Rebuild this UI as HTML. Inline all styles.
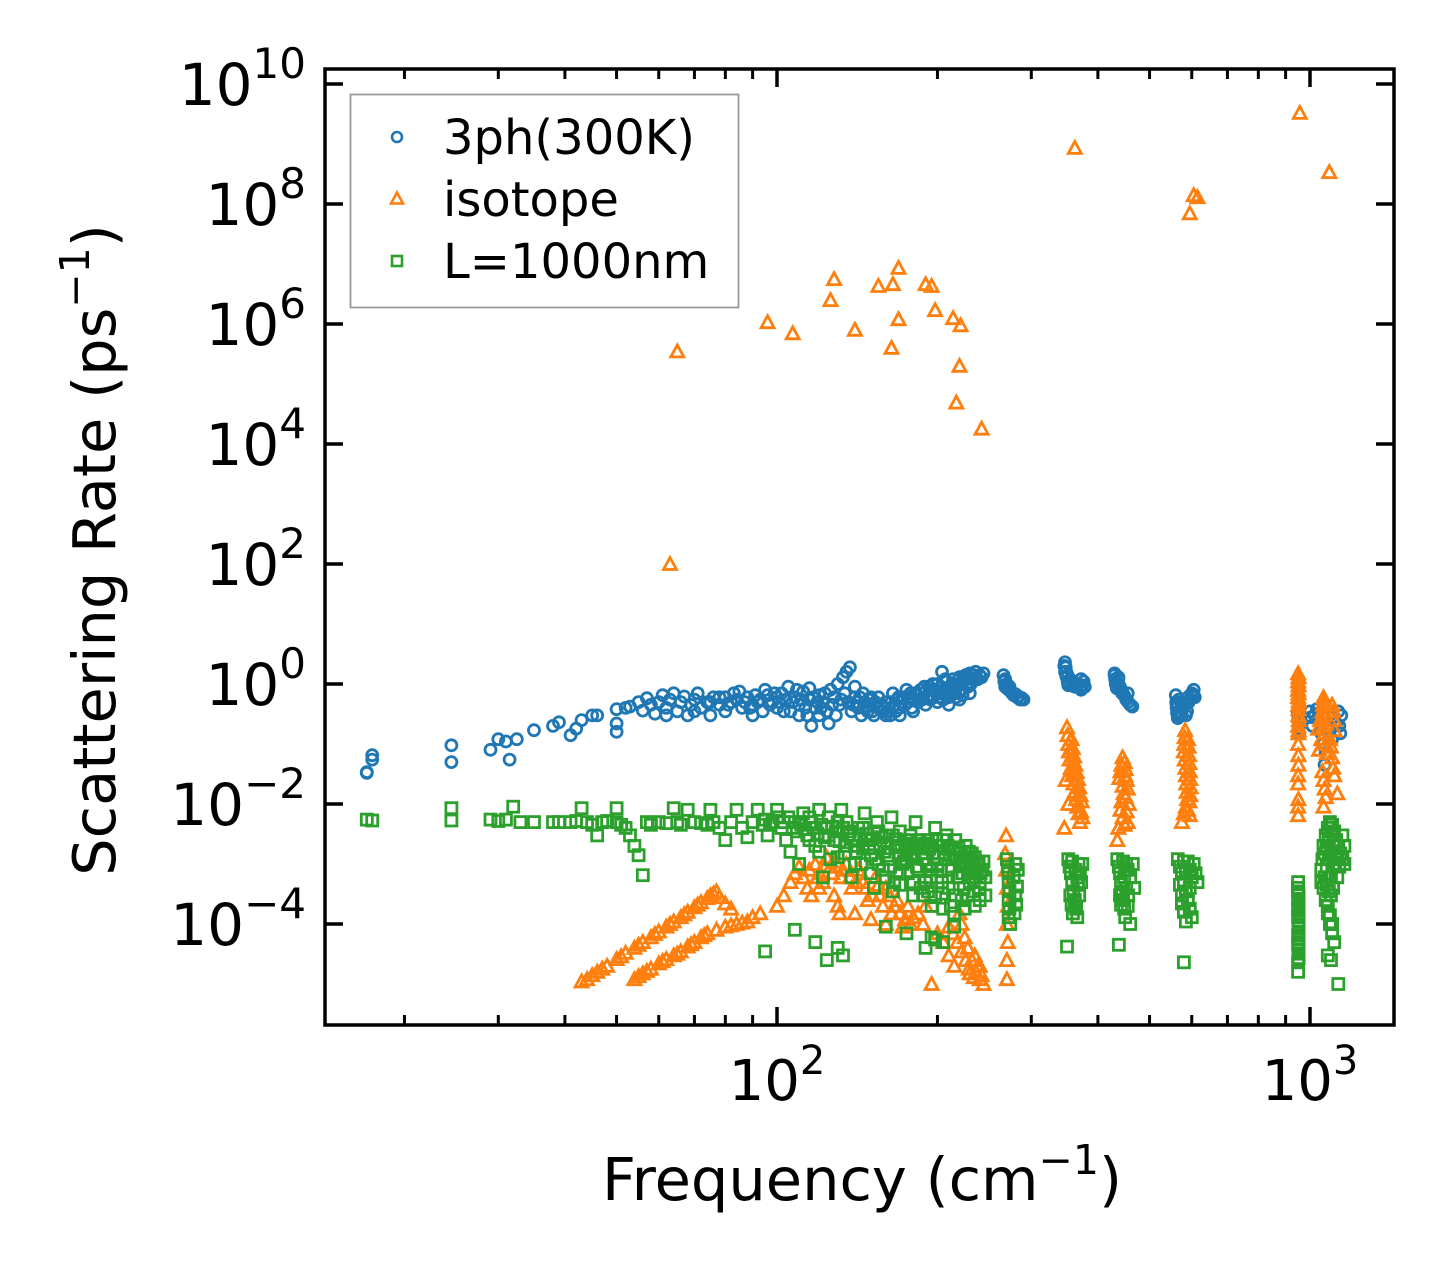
<!DOCTYPE html>
<html><head><meta charset="utf-8"><style>
html,body{margin:0;padding:0;background:#fff;}
svg{display:block;font-family:"DejaVu Sans","Liberation Sans",sans-serif;}
</style></head><body>
<svg id="chart" width="1455" height="1275" viewBox="0 0 1455 1275" xmlns="http://www.w3.org/2000/svg">
<rect width="1455" height="1275" fill="#fff"/>
<g id="marks"></g>
<g id="axes"></g>
<text x="862" y="1200" font-size="59" text-anchor="middle">Frequency (cm<tspan font-size="41" dy="-26">−1</tspan><tspan dy="26">)</tspan></text>
<text transform="translate(115,550) rotate(-90)" font-size="59" text-anchor="middle">Scattering Rate (ps<tspan font-size="41" dy="-26">−1</tspan><tspan dy="26">)</tspan></text>
<g>
<rect x="350.5" y="94.5" width="388" height="213" fill="#fff" stroke="#999" stroke-width="1.8"/>
<circle cx="397" cy="137" r="5" fill="none" stroke="#1f77b4" stroke-width="2.6"/>
<text x="443" y="154" font-size="48">3ph(300K)</text>
<path d="M397,192.5 L403,203.5 L391,203.5 Z" fill="none" stroke="#ff7f0e" stroke-width="2.6"/>
<text x="443" y="216" font-size="48">isotope</text>
<rect x="392" y="256" width="10" height="10" fill="none" stroke="#2ca02c" stroke-width="2.6"/>
<text x="443" y="278" font-size="48">L=1000nm</text>
</g>
</svg>
<script>
const xTickValues = [100, 1000];
const xTickLabels = ["2", "3"];
const xMinorTicks = [20,30,40,50,60,70,80,90,200,300,400,500,600,700,800,900];
const yTickValues = [1e-4,1e-2,1,1e2,1e4,1e6,1e8,1e10];
const yTickLabels = ["−4","−2","0","2","4","6","8","10"];

const threePh = [[17,0.033],[17,0.034],[17.4,0.055],[17.4,0.065],[24.5,0.095],[24.5,0.05],[29,0.08],[30,0.12],[31,0.11],[31.5,0.055],[32.5,0.12],[35,0.17],[38,0.2],[39,0.23],[41,0.14],[42,0.18],[43,0.25],[45,0.3],[46,0.3],[50,0.38],[50,0.16],[50,0.22],[52,0.4],[53,0.42],[55,0.5],[56,0.36],[57,0.58],[58,0.45],[59,0.32],[60,0.5],[61,0.65],[62,0.4],[63,0.55],[64,0.7],[65,0.35],[66,0.5],[67,0.62],[68,0.3],[69,0.45],[70,0.55],[71,0.7],[72,0.4],[74,0.5],[75,0.3],[76,0.6],[78,0.45],[80,0.35],[82,0.5],[84,0.55],[86,0.4],[88,0.6],[90,0.45],[92,0.5],[94,0.35],[96,0.65],[98,0.5],[100,0.4],[102,0.7],[104,0.55],[105,0.9],[106,0.35],[108,0.6],[110,0.45],[112,0.75],[114,0.3],[115,0.55],[116,0.2],[118,0.4],[120,0.65],[122,0.5],[124,0.35],[126,0.8],[128,0.6],[130,1.0],[131,0.45],[133,1.3],[134,0.7],[135,1.6],[136,0.5],[137,1.9],[138,0.35],[140,0.6],[142,0.4],[144,0.3],[146,0.5],[148,0.35],[150,0.45],[152,0.3],[155,0.4],[158,0.35],[160,0.5],[163,0.3],[166,0.45],[168,0.55],[170,0.4],[173,0.6],[176,0.5],[178,0.7],[180,0.55],[183,0.65],[186,0.8],[188,0.6],[190,0.75],[193,0.9],[195,0.65],[197,0.8],[200,1.0],[202,0.7],[204,1.6],[206,0.8],[208,1.1],[210,0.6],[212,0.9],[214,1.2],[216,0.7],[218,1.0],[220,1.3],[222,0.8],[224,1.1],[226,1.4],[228,0.9],[230,1.5],[233,1.2],[236,1.6],[240,1.4],[244,1.5],
[62,0.3],[70,0.35],[80,0.6],[90,0.3],[100,0.6],[110,0.3],[120,0.3],[125,0.22],[140,0.9],[150,0.6],[160,0.3],[170,0.3],[180,0.35],[190,0.45],[200,0.5],[210,0.45],[220,0.55],[230,0.7],[85,0.75],[95,0.8],[115,0.85],[145,0.7],[155,0.6],[165,0.7],[175,0.8],
[75,0.5],[78,0.6],[81,0.45],[83,0.7],[87,0.5],[89,0.4],[91,0.65],[93,0.55],[97,0.45],[99,0.7],[101,0.5],[103,0.35],[107,0.5],[109,0.8],[111,0.55],[113,0.4],[117,0.6],[119,0.5],[121,0.4],[123,0.7],[127,0.45],[129,0.3],[132,0.55],[139,0.45],[141,0.5],[143,0.6],[147,0.4],[149,0.55],[151,0.35],[153,0.5],[157,0.45],[159,0.4],[161,0.35],[164,0.5],[167,0.35],[169,0.6],[171,0.5],[174,0.45],[177,0.6],[179,0.4],[181,0.7],[184,0.5],[187,0.55],[189,0.9],[191,0.6],[194,0.55],[196,1.0],[199,0.7],[201,0.6],[203,0.9],[205,0.55],[207,1.2],[209,0.75],[211,0.65],[213,1.0],[215,0.9],[217,0.6],[219,1.2],[221,1.0],[223,0.65],[225,1.2],[227,1.0],[229,1.3],[231,1.0],[234,1.4],[238,1.2],[242,1.3],
[266,1.4],[267,1.1],[268,0.9],[270,1.0],[272,0.8],[275,0.75],[278,0.65],[282,0.6],[286,0.55],[268,1.2],[270,0.85],[273,0.9],[276,0.7],[280,0.68],[284,0.62],[288,0.58],[290,0.55],
[347,2.3],[348,1.9],[349,1.6],[350,1.3],[351,1.1],[352,0.95],[355,1.2],[360,1.0],[365,0.9],[370,0.85],[374,0.95],[372,1.2],[346,2.0],[347,1.6],[349,1.35],[351,1.4],[353,1.0],[357,1.1],[362,0.9],[367,1.0],[372,0.8],[376,1.1],[378,0.9],
[430,1.5],[431,1.2],[432,1.0],[434,0.85],[437,1.3],[440,0.9],[444,0.75],[448,0.65],[452,0.55],[456,0.5],[460,0.45],[455,0.7],[430,1.4],[432,1.1],[434,0.95],[437,1.2],[440,0.8],[444,0.7],[464,0.42],
[560,0.65],[561,0.5],[562,0.4],[563,0.33],[565,0.27],[567,0.55],[570,0.35],[575,0.3],[580,0.5],[590,0.6],[600,0.7],[605,0.8],[608,0.6],[585,0.3],[562,0.45],[566,0.3],[574,0.4],[584,0.45],[588,0.35],[592,0.5],[596,0.55],[604,0.65],
[948,0.35],[950,0.25],[952,0.18],[954,0.15],[951,0.3],[953,0.22],
[1000,0.35],[1005,0.28],[1010,0.2],[1020,0.3],[1030,0.38],[1040,0.25],[1050,0.15],[1060,0.1],[1070,0.07],[1080,0.3],[1090,0.2],[1100,0.12],[1110,0.28],[1120,0.22],[1130,0.35],[1065,0.045],[1140,0.15],[1145,0.3],[1135,0.2]];

const isotope = [[65,3.5e5],[63,100],[128,5.6e6],[126,2.5e6],[96,1.07e6],[107,7e5],[140,8e5],[155,4.3e6],[165,4.6e6],[169,8.6e6],[164,4e5],[169,1.2e6],[190,4.6e6],[195,4.3e6],[198,1.7e6],[214,1.25e6],[221,9.5e5],[220,2.0e5],[217,4.9e4],[242,1.8e4],[362,8.6e8],[595,7e7],[605,1.4e8],[615,1.3e8],[957,3.3e9],[1087,3.4e8],
[43,1.1e-5],[44,1.2e-5],[46,1.6e-5],[48,2e-5],[50,2.6e-5],[52,3.3e-5],[54,4e-5],[56,5e-5],[58,6e-5],[60,7.5e-5],[62,9e-5],[64,1.1e-4],[66,1.3e-4],[68,1.6e-4],[70,1.9e-4],[72,2.3e-4],[74,2.7e-4],[76,3.2e-4],[78,2.8e-4],[80,2.2e-4],[82,1.8e-4],[45,1.4e-5],[47,1.8e-5],[51,2.9e-5],[55,4.5e-5],[59,6.8e-5],[63,1e-4],[67,1.45e-4],[71,2.1e-4],[75,3e-4],[77,3.5e-4],
[54,1.2e-5],[56,1.5e-5],[58,1.8e-5],[60,2.2e-5],[62,2.6e-5],[64,3e-5],[66,3.5e-5],[68,4.2e-5],[70,5e-5],[72,6e-5],[74,7e-5],[77,8e-5],[80,9e-5],[84,1e-4],[88,1.1e-4],[90,1.3e-4],[93,1.5e-4],[55,1.35e-5],[57,1.65e-5],[61,2.4e-5],[65,3.2e-5],[69,4.6e-5],[73,6.5e-5],[82,9.5e-5],[86,1.05e-4],
[100,2e-4],[103,3e-4],[106,5e-4],[108,7e-4],[110,9e-4],[112,6e-4],[114,4e-4],[116,3e-4],[118,1e-3],[120,7e-4],[122,5e-4],[124,1.3e-3],[126,9e-4],[128,3e-4],[130,2e-4],[132,6e-4],[135,1e-3],[138,4e-4],[140,1.5e-4],[142,8e-4],[145,5e-4],[148,2.5e-4],[150,1.2e-4],[153,6e-4],[156,3e-4],[160,4e-4],[164,1.5e-4],[168,2.5e-4],[172,9e-5],[176,2e-4],[180,1.3e-4],[190,2e-4],[195,1e-5],[200,7e-5],[205,5e-5],[210,3e-5],[215,2e-5],[220,1.5e-4],[222,1e-4],[225,6e-5],[228,4e-5],[232,2.5e-5],[236,1.6e-5],[240,1.2e-5],[244,1e-5],[230,1.5e-5],[238,2e-5],[160,1e-4],[120,4e-4],[131,1.5e-4],
[115,8e-4],[119,6e-4],[123,9e-4],[127,7e-4],[129,1.1e-3],[133,8e-4],[137,6e-4],[141,5e-4],[144,7e-4],[147,4e-4],[151,3e-4],[155,4.5e-4],[158,2e-4],[162,3e-4],[166,2e-4],[170,1.5e-4],[174,1.2e-4],[178,1e-4],[184,1.5e-4],[188,1e-4],[210,9e-5],[214,7e-5],[218,5e-5],[222,3.5e-5],[226,2.5e-5],[229,1.8e-5],[234,1.3e-5],[242,1.4e-5],[235,3e-5],[240,2e-5],
[268,1.5e-3],[269,8e-4],[270,4e-4],[271,2e-4],[270,1e-4],[271,5e-5],[270,2.5e-5],[270,1.2e-5],[269,3e-3],
[350,0.19],[351,0.14],[352,0.1],[353,0.075],[354,0.055],[356,0.04],[358,0.03],[360,0.022],[362,0.016],[364,0.012],[366,0.009],[368,0.007],[370,0.005],[352,0.01],[346,0.004],[348,0.025],[357,0.12],[359,0.085],[361,0.062],[363,0.045],[365,0.034],[367,0.026],[369,0.019],[371,0.014],[373,0.011],[372,0.0075],[374,0.006],
[445,0.06],[443,0.045],[441,0.035],[439,0.027],[445,0.02],[447,0.015],[443,0.011],[441,0.008],[445,0.006],[449,0.0045],[437,0.004],[455,0.005],[435,0.0025],[450,0.03],[449,0.05],[451,0.038],[453,0.025],[455,0.018],[451,0.013],[457,0.01],[453,0.0075],
[583,0.17],[582,0.13],[581,0.1],[580,0.075],[582,0.055],[584,0.04],[585,0.03],[586,0.022],[587,0.016],[588,0.012],[585,0.009],[580,0.007],[590,0.008],[575,0.005],[595,0.0065],[590,0.12],[592,0.09],[593,0.065],[594,0.048],[595,0.035],[596,0.026],[597,0.019],[596,0.014],[594,0.011],
[950,1.5],[950,1.1],[950,0.8],[950,0.6],[951,0.45],[951,0.3],[950,0.2],[951,0.15],[950,0.1],[951,0.065],[950,0.03],[950,0.022],[951,0.012],[950,0.009],[950,0.0065],[952,1.3],[952,0.95],[952,0.7],[953,0.52],[952,0.38],[953,0.25],[952,0.17],[951,0.045],
[1060,0.6],[1058,0.45],[1055,0.35],[1052,0.26],[1060,0.2],[1065,0.15],[1050,0.12],[1070,0.1],[1040,0.08],[1075,0.07],[1090,0.12],[1095,0.09],[1100,0.06],[1105,0.04],[1110,0.03],[1055,0.035],[1060,0.025],[1065,0.018],[1070,0.013],[1060,0.009],[1125,0.015],[1045,0.25],[1035,0.18],[1063,0.52],[1066,0.4],[1070,0.3],[1072,0.22],[1100,0.45],[1105,0.35],[1110,0.25],[1112,0.17]];

const boundary = [[17,5.5e-3],[17.4,5.3e-3],[24.5,8.5e-3],[24.5,5.3e-3],[29,5.5e-3],[30,5.2e-3],[31,5.5e-3],[32,9e-3],[33,5e-3],[35,5e-3],[38,5e-3],[39,5e-3],[41,5e-3],[42,5.2e-3],[43,8.5e-3],[44,5e-3],[45,4.5e-3],[46,3e-3],[47,5e-3],[48,5.2e-3],[50,8.5e-3],[50,5e-3],[51,4.5e-3],[52,4e-3],[53,3e-3],[54,2e-3],[55,1.4e-3],[56,6.5e-4],[57,5e-3],[58,4.5e-3],[60,5e-3],[62,4.8e-3],[64,8.5e-3],[65,5e-3],[66,4.5e-3],[68,8e-3],[70,5e-3],[72,4.8e-3],[74,4.5e-3],[75,8e-3],[76,5e-3],[78,4e-3],[80,2.5e-3],[82,5e-3],[84,8e-3],[86,4e-3],[88,2.8e-3],[90,5e-3],[92,8e-3],[94,4.5e-3],[96,3e-3],[98,5e-3],[100,8e-3],[102,4e-3],[104,2.5e-3],[106,1.6e-3],[108,5e-3],[110,1e-3],[112,7e-3],[114,3e-3],[116,5e-3],[118,2e-3],[120,8e-3],[122,6e-4],[124,4e-3],[126,1.2e-3],[128,2.5e-3],[130,5e-3],[132,8e-3],[134,1.5e-3],[136,3e-3],[138,6e-4],[140,2e-3],[142,4e-3],[144,1e-3],[146,7e-3],[148,2.5e-3],[150,1.4e-3],[152,4e-4],[154,5e-3],[156,2e-3],[158,8e-4],[160,3e-3],[162,1.2e-3],[164,6e-3],[166,5e-4],[168,2e-3],[170,3.5e-3],[172,1e-3],[174,2e-3],[176,7e-4],[178,3e-3],[180,1.5e-3],[182,5e-3],[184,8e-4],[186,2e-3],[188,3e-4],[190,1.2e-3],[192,2.5e-3],[194,6e-4],[196,1.5e-3],[198,4e-3],[200,1e-3],[202,2e-3],[204,5e-4],[206,1.5e-3],[208,3e-3],[210,8e-4],[212,2e-4],[214,1.2e-3],[216,2.5e-3],[218,6e-4],[220,1.5e-3],[222,1e-3],[224,4e-4],[226,2e-3],[228,7e-4],[230,1.2e-3],[232,1.5e-3],[234,9e-4],[236,6e-4],[238,1.1e-3],[240,5e-4],[243,8e-4],
[105,6e-3],[110,5e-3],[115,6e-3],[125,6e-3],[135,5e-3],[145,4e-3],[155,3.5e-3],[165,3e-3],[175,2.5e-3],[185,2.5e-3],[195,2e-3],[205,2.5e-3],[215,1.8e-3],[225,1.5e-3],[115,2.5e-3],[125,3e-3],[135,2e-3],[145,1.8e-3],[155,1e-3],[175,1.2e-3],[195,8e-4],[210,1.8e-3],
[95,5.5e-3],[97,4.5e-3],[101,6e-3],[103,5e-3],[107,4e-3],[109,3.5e-3],[111,4.5e-3],[113,3.8e-3],[117,4e-3],[119,3.2e-3],[121,4.5e-3],[123,2.8e-3],[127,4.2e-3],[129,3.5e-3],[131,2.4e-3],[133,4e-3],[137,3.5e-3],[139,2.6e-3],[141,1.6e-3],[143,3e-3],[147,3.2e-3],[149,1.9e-3],[151,2.6e-3],[153,1.2e-3],[157,2.8e-3],[159,1.6e-3],[161,2.2e-3],[163,9e-4],[167,2.6e-3],[169,1.4e-3],[171,1.9e-3],[173,1.1e-3],[177,2.2e-3],[179,1.3e-3],[181,1.8e-3],[183,9e-4],[187,1.5e-3],[189,2.2e-3],[191,1e-3],[193,1.8e-3],[197,1.3e-3],[199,2.5e-3],[201,1.5e-3],[203,8e-4],[207,1.2e-3],[209,2e-3],[211,1.4e-3],[213,9e-4],[217,1.3e-3],[219,1.9e-3],[221,1.1e-3],[223,7e-4],[227,1.1e-3],[229,1.6e-3],[231,9e-4],[233,6e-4],[235,1.3e-3],[237,8e-4],[239,1e-3],[241,7e-4],[244,1.1e-3],[246,6e-4],[120,1.6e-3],[130,1.3e-3],[140,1e-3],[150,7e-4],[160,6e-4],[170,7e-4],[180,5e-4],[190,5e-4],[200,6e-4],[220,6e-4],[230,5e-4],[240,4e-4],
[180,3e-4],[186,4e-4],[192,3.5e-4],[198,2.8e-4],[204,3.2e-4],[210,4e-4],[216,3e-4],[222,2.5e-4],[228,3e-4],[234,3.5e-4],[240,2.5e-4],[246,3e-4],[195,2e-4],[205,1.8e-4],[215,1.5e-4],[225,1.8e-4],[235,2e-4],[170,4.5e-4],[165,3.5e-4],
[95,3.5e-5],[108,8e-5],[118,5e-5],[124,2.5e-5],[130,4e-5],[133,3e-5],[160,9e-5],[175,7e-5],[190,4e-5],[198,5.5e-5],[205,5e-5],[215,9e-5],[195,6e-5],
[270,1.2e-3],[271,9e-4],[272,7e-4],[272,5e-4],[273,3.5e-4],[272,2.5e-4],[273,1.8e-4],[272,1.3e-4],[274,1e-4],[280,1e-3],[283,8e-4],[278,6e-4],[282,4.2e-4],[280,3e-4],[281,2.1e-4],[279,1.5e-4],
[352,1.2e-3],[354,9e-4],[356,7e-4],[358,5e-4],[360,3.5e-4],[362,2.5e-4],[364,1.8e-4],[366,1.3e-4],[368,1e-3],[370,7e-4],[372,5e-4],[374,1e-3],[367,4.5e-4],[350,4.2e-5],[362,2e-4],[358,1.1e-3],[363,8e-4],[366,6e-4],[369,3e-4],[355,3e-4],[357,2.1e-4],[359,1.5e-4],
[435,1.2e-3],[438,9e-4],[440,7e-4],[442,5e-4],[444,3.5e-4],[446,2.5e-4],[448,1.8e-4],[450,1.3e-4],[452,1e-3],[455,8e-4],[460,6e-4],[465,1e-3],[468,4e-4],[455,2e-4],[438,4.5e-5],[460,1e-4],[446,1.1e-3],[450,8e-4],[448,6e-4],[452,4e-4],[456,3e-4],[440,3e-4],[442,2.1e-4],
[565,1.2e-3],[570,9e-4],[575,7e-4],[580,5e-4],[585,3.5e-4],[590,2.5e-4],[595,1.8e-4],[600,1.3e-4],[605,1e-3],[610,7e-4],[615,5e-4],[575,3e-4],[585,1.1e-4],[580,2.3e-5],[595,8e-4],[580,1.1e-3],[590,1.1e-3],[585,8e-4],[600,6e-4],[570,4.5e-4],[595,4e-4],[575,2.2e-4],[580,1.6e-4],
[950,5e-4],[950,3.5e-4],[950,2.5e-4],[950,1.8e-4],[950,1.3e-4],[951,9e-5],[950,6.5e-5],[950,4.5e-5],[951,3.2e-5],[950,2.3e-5],[950,1.6e-5],[949,4e-4],[952,3e-4],[952,2.1e-4],[952,1.5e-4],[952,1.1e-4],[952,7.5e-5],[952,5.5e-5],[952,3.8e-5],[952,2.7e-5],
[1050,5e-4],[1055,1.2e-3],[1060,2e-3],[1070,3e-3],[1080,4e-3],[1090,5e-3],[1100,4.5e-3],[1110,3.5e-3],[1120,2.5e-3],[1130,2e-3],[1140,1.5e-3],[1150,1.2e-3],[1160,1e-3],[1050,8e-4],[1060,4e-4],[1070,2.5e-4],[1080,1.5e-4],[1090,1e-4],[1100,7e-5],[1110,5e-5],[1080,3e-5],[1130,1e-5],[1095,2.5e-5],[1085,1.2e-3],[1105,2e-3],[1115,1e-3],[1125,6e-4],[1095,3e-4],[1160,2e-3],[1150,3e-3],
[1065,1.5e-3],[1075,1.8e-3],[1085,2.5e-3],[1095,3.5e-3],[1105,3e-3],[1075,9e-4],[1085,6e-4],[1095,1.5e-3],[1105,1e-3],[1115,1.6e-3],[1125,1.3e-3],[1135,9e-4],[1065,6e-4],[1075,4.5e-4],[1085,3.5e-4],[1095,6e-4],[1105,4e-4],[1080,2e-4],[1090,1.4e-4],[1100,1e-4]];

const NS = "http://www.w3.org/2000/svg";
const L = 325, R = 1394, T = 69, B = 1025;
function xScale(f){ return 777 + (Math.log10(f) - 2) * 533; }
function yScale(r){ return 684 - Math.log10(r) * 60; }
function mk(tag, attrs, parent){
  const e = document.createElementNS(NS, tag);
  for (const k in attrs) e.setAttribute(k, attrs[k]);
  parent.appendChild(e);
  return e;
}
const marks = document.getElementById('marks');
const axes = document.getElementById('axes');

const gB = mk('g', {fill:'none', stroke:'#1f77b4', 'stroke-width':'2.8'}, marks);


threePh.forEach(p => {
  const c = mk('circle', {cx:xScale(p[0]).toFixed(1), cy:yScale(p[1]).toFixed(1), r:'5.5'}, gB);
  
  
});
const gO = mk('g', {fill:'none', stroke:'#ff7f0e', 'stroke-width':'2.8'}, marks);


isotope.forEach(p => {
  const x = xScale(p[0]), y = yScale(p[1]);
  const t = mk('path', {d:`M${x.toFixed(1)},${(y-6.5).toFixed(1)} L${(x+6.5).toFixed(1)},${(y+5.5).toFixed(1)} L${(x-6.5).toFixed(1)},${(y+5.5).toFixed(1)} Z`}, gO);
  
  
});
const gG = mk('g', {fill:'none', stroke:'#2ca02c', 'stroke-width':'2.8'}, marks);


boundary.forEach(p => {
  const x = xScale(p[0]), y = yScale(p[1]);
  const s = mk('rect', {x:(x-5.5).toFixed(1), y:(y-5.5).toFixed(1), width:'11', height:'11'}, gG);
  
  
});

const frame = mk('rect', {x:L, y:T, width:R-L, height:B-T, fill:'none', stroke:'#000', 'stroke-width':'3.5'}, axes);



xTickValues.forEach((v, i) => {
  const x = xScale(v);
  const t1 = mk('line', {x1:x, x2:x, y1:B, y2:B-18, stroke:'#000', 'stroke-width':'3.5'}, axes);
  
  
  const t2 = mk('line', {x1:x, x2:x, y1:T, y2:T+18, stroke:'#000', 'stroke-width':'3.5'}, axes);
  
  
  const lab = mk('text', {x:x, y:1100, 'font-size':'56', 'text-anchor':'middle'}, axes);
  
  
  lab.innerHTML = '10<tspan font-size="40" dy="-26">' + xTickLabels[i] + '</tspan>';
});
xMinorTicks.forEach(v => {
  const x = xScale(v);
  const t1 = mk('line', {x1:x, x2:x, y1:B, y2:B-10, stroke:'#000', 'stroke-width':'3'}, axes);
  
  
  const t2 = mk('line', {x1:x, x2:x, y1:T, y2:T+10, stroke:'#000', 'stroke-width':'3'}, axes);
  
  
});
yTickValues.forEach((v, i) => {
  const y = yScale(v);
  const t1 = mk('line', {x1:L, x2:L+18, y1:y, y2:y, stroke:'#000', 'stroke-width':'3.5'}, axes);
  
  
  const t2 = mk('line', {x1:R, x2:R-18, y1:y, y2:y, stroke:'#000', 'stroke-width':'3.5'}, axes);
  
  
  const lab = mk('text', {x:306, y:y+21, 'font-size':'58', 'text-anchor':'end'}, axes);
  
  
  lab.innerHTML = '10<tspan font-size="42" dy="-27">' + yTickLabels[i] + '</tspan>';
});
</script>
</body></html>
